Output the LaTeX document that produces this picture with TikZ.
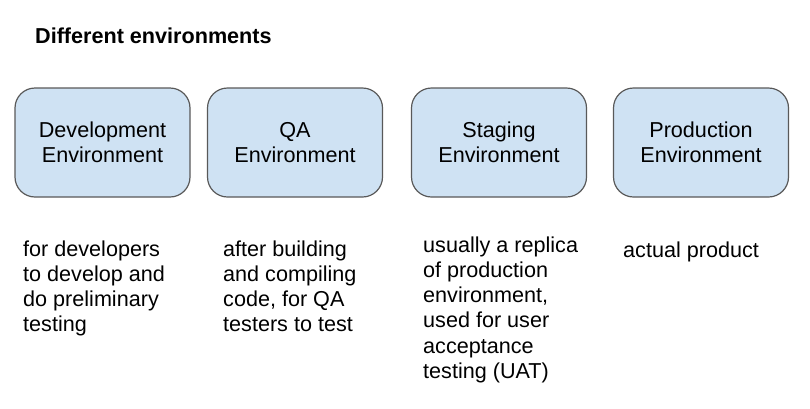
\documentclass[tikz,border=0pt]{standalone}
\usepackage{fontspec}
\setmainfont{Liberation Sans}
\definecolor{boxfill}{HTML}{CFE2F3}
\definecolor{boxline}{HTML}{595959}
\begin{document}
\begin{tikzpicture}[x=1pt,y=-1pt,
    envbox/.style={draw=boxline,fill=boxfill,line width=1.2pt,rounded corners=20pt,
      minimum width=175pt,minimum height=109pt,align=center,
      font=\fontsize{21.6}{25.3}\selectfont},
    note/.style={anchor=base west,inner sep=0pt,align=left,
      font=\fontsize{21.6}{25.3}\selectfont}]
      \useasboundingbox (0,0) rectangle (810,408);

      % title
      \node[anchor=base west,inner sep=0pt,font=\fontsize{21.6}{25.3}\selectfont\bfseries] (title) at (35,43) {Different environments};

      % environments
      \node[envbox] (dev) at (102.5,142.5) {Development\\Environment};
      \node[envbox] (qa) at (295,142.5) {QA\\Environment};
      \node[envbox] (staging) at (499,142.5) {Staging\\Environment};
      \node[envbox] (prod) at (701,142.5) {Production\\Environment};

      % notes (placed at the baseline of their last line)
      \node[note] (devnote) at (23,331.9) {for developers\\to develop and\\do preliminary\\testing};
      \node[note] (qanote) at (223,331.9) {after building\\and compiling\\code, for QA\\testers to test};
      \node[note] (stagingnote) at (423,378.5) {usually a replica\\of production\\environment,\\used for user\\acceptance\\testing (UAT)};
      \node[note] (prodnote) at (623,257) {actual product};
    \end{tikzpicture}
\end{document}
